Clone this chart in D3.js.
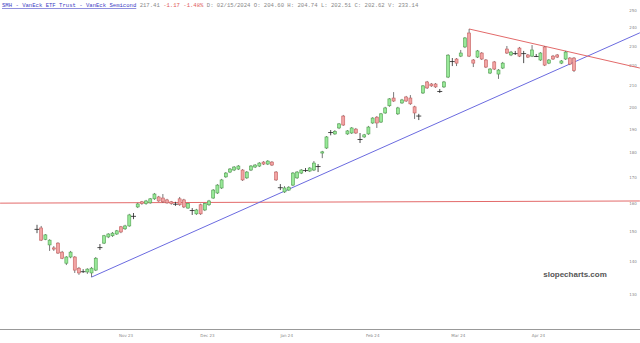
<!DOCTYPE html>
<html>
<head>
<meta charset="utf-8">
<style>
  body { margin: 0; background: #fff; }
  svg { display: block; }
  .hdr { font-family: "Liberation Mono", "DejaVu Sans Mono", monospace; font-size: 5.6px; }
  .yaxis text, .xaxis text { font-family: "DejaVu Sans", sans-serif; font-size: 4px; fill: #888; }
  .mark { font-family: "Liberation Sans", Arial, sans-serif; font-size: 8px; font-weight: bold; fill: #555; }
</style>
</head>
<body>
<svg width="640" height="343"></svg>
<script src="https://d3js.org/d3.v7.min.js"></script>
<script>

// SMH daily candles, Oct 2023 - Apr 2024
var opens = [
  151.0,151.3,147.4,145.5,144.5,146.1,143.1,139.5,141.5,141.5,
  137.9,137.0,136.7,136.4,137.3,144.8,146.1,148.2,148.6,149.2,
  151.7,151.0,152.0,155.5,158.8,160.7,160.0,160.3,161.8,162.5,
  162.1,161.4,160.7,160.0,161.8,161.4,158.4,157.7,156.3,159.6,
  157.7,159.6,162.1,164.0,165.9,170.2,172.1,172.9,173.3,172.9,
  169.8,172.9,174.1,174.5,176.1,175.3,176.1,172.1,166.2,164.4,
  165.1,167.0,169.8,171.7,172.9,172.5,172.9,174.5,179.8,181.9,
  188.3,187.9,190.5,195.8,187.9,188.3,190.0,185.7,186.6,187.9,
  192.7,195.3,193.1,197.2,200.5,204.1,196.8,201.8,204.6,204.1,
  200.0,196.3,206.5,211.8,210.8,210.8,207.4,209.4,214.2,222.3,
  223.3,224.8,229.6,237.1,222.8,224.3,226.4,222.8,216.2,221.8,
  215.7,218.7,228.5,225.4,226.4,229.0,226.4,225.4,224.8,224.8,
  222.8,229.6,221.2,224.8,225.4,221.2,223.3,223.8,223.8
];
var highs = [
  152.4,152.0,149.2,147.4,145.1,146.4,143.5,141.8,143.5,141.8,
  138.3,137.6,137.9,138.3,141.5,145.8,148.9,149.5,149.9,150.6,
  152.0,152.4,156.3,156.6,160.3,161.0,161.4,162.1,164.0,162.9,
  163.6,161.8,161.0,160.7,162.5,161.8,160.3,158.4,158.1,160.0,
  160.3,161.4,165.5,167.4,169.4,172.1,173.7,174.5,174.9,173.3,
  172.5,174.9,175.3,176.1,176.5,176.9,176.5,172.5,167.4,166.6,
  166.6,172.1,172.5,173.3,173.7,174.1,176.5,175.3,180.7,187.0,
  189.6,189.6,192.7,196.3,189.6,190.9,190.5,188.3,187.9,191.4,
  195.3,195.8,197.2,200.0,204.1,206.9,200.0,203.7,205.1,205.5,
  200.5,196.8,210.3,212.3,211.3,211.3,208.4,212.3,225.8,223.8,
  223.8,228.0,234.9,239.3,223.3,228.0,226.9,223.3,218.7,222.3,
  218.2,221.8,230.1,227.5,227.5,229.6,227.5,225.9,230.6,225.9,
  226.9,230.1,223.3,225.4,225.9,222.8,227.5,224.3,224.3
];
var lows = [
  149.5,146.8,147.1,143.5,143.5,142.5,140.8,138.9,141.1,136.4,
  135.8,136.4,136.1,135.1,137.0,143.8,145.8,147.8,148.2,148.9,
  149.5,150.6,151.7,154.4,158.4,159.6,159.6,160.0,161.4,160.7,
  160.3,160.0,159.6,159.2,159.2,158.4,158.1,155.9,155.9,155.9,
  157.3,159.2,161.8,163.6,165.5,169.8,171.7,172.5,172.9,168.6,
  169.4,172.5,173.7,174.1,174.9,174.9,174.5,168.6,165.1,164.0,
  164.8,166.6,169.4,171.3,172.1,172.1,172.5,172.1,177.7,181.5,
  187.3,187.5,190.0,191.4,187.5,187.9,187.9,184.0,186.2,187.5,
  192.3,190.5,192.7,196.8,200.0,202.3,196.3,201.4,202.3,200.9,
  194.5,194.0,206.0,208.4,209.4,208.9,206.5,208.9,213.7,219.7,
  219.7,224.3,229.0,224.3,219.2,223.8,222.8,218.7,215.7,217.7,
  213.3,218.2,225.9,224.8,225.4,224.3,221.2,223.8,224.3,224.3,
  222.3,219.7,220.7,222.8,223.8,220.7,222.8,220.2,216.7
];
var closes = [
  150.8,147.1,148.9,147.1,144.1,142.8,141.1,141.5,143.1,137.3,
  136.4,136.8,137.6,137.9,141.1,144.6,148.6,149.2,149.5,150.3,
  149.9,152.0,155.9,155.4,159.9,160.0,161.0,161.8,163.6,161.0,
  160.7,160.3,160.0,159.8,159.6,158.8,160.0,157.5,157.7,156.3,
  160.0,161.0,165.1,167.0,169.0,171.7,173.3,174.1,174.5,169.0,
  172.1,174.5,174.9,175.7,175.3,176.5,174.9,169.0,166.0,165.9,
  166.2,171.7,172.1,172.9,172.7,173.7,175.7,174.3,180.3,186.6,
  188.5,188.9,192.3,191.8,189.2,190.5,188.3,185.5,187.5,190.9,
  194.9,192.7,196.8,199.5,203.7,202.7,199.5,203.2,202.7,201.4,
  197.2,195.8,209.9,208.9,209.9,209.4,207.2,211.8,225.3,222.0,
  221.2,226.4,234.4,224.8,221.2,227.5,223.3,219.2,218.2,218.2,
  217.7,221.2,226.4,226.9,226.1,224.8,226.1,224.3,228.0,224.6,
  226.4,220.2,222.8,223.3,224.3,222.3,226.9,220.7,217.4
];

var priceTicks = [250, 240, 230, 220, 210, 200, 190, 180, 170, 160, 150, 140, 130];
var monthLabels = ["Nov 23", "Dec 23", "Jan 24", "Feb 24", "Mar 24", "Apr 24"];
var monthBar = [21.1, 40.5, 59.4, 79.9, 100.3, 119.4];

// drawn lines: [bar index, price] pairs
var supportLine = [[13, 135.1], [143.7, 237.2]];
var resistLine = [[103, 239.3], [143.7, 218.7]];
var flatLine = [[-8.8, 160.2], [143.7, 161.0]];

var svg = d3.select("svg"),
    width = +svg.attr("width"),
    height = +svg.attr("height");

var candles = opens.map(function(o, i) {
  return { i: i, o: o, h: highs[i], l: lows[i], c: closes[i] };
});

var x = d3.scaleLinear().domain([0, candles.length - 1]).range([37, 574]);
var y = d3.scaleLog().domain([130, 250]).range([293.8, 10]);

// header
var hdr = svg.append("text").attr("class", "hdr").attr("x", 2).attr("y", 7);
hdr.append("tspan").attr("fill", "#3b3bc4").attr("text-decoration", "underline")
   .text("SMH - VanEck ETF Trust - VanEck Semicond");
hdr.append("tspan").attr("fill", "#888").text(" 217.41 ");
hdr.append("tspan").attr("fill", "#e05a5a").text("-1.17 -1.48%");
hdr.append("tspan").attr("fill", "#888")
   .text(" D: 02/15/2024 O: 204.60 H: 204.74 L: 202.51 C: 202.62 V: 233.14");

// bottom rule
svg.append("line")
    .attr("x1", 0).attr("x2", width)
    .attr("y1", 329.5).attr("y2", 329.5)
    .attr("stroke", "#999").attr("stroke-width", 1);

// axes
var yAxis = svg.append("g").attr("class", "yaxis")
    .attr("transform", "translate(628,0)")
    .call(d3.axisRight(y).tickValues(priceTicks).tickSize(0).tickPadding(5)
          .tickFormat(d3.format("d")));
yAxis.select(".domain").remove();
yAxis.selectAll("text").attr("text-anchor", "middle");

var xAxis = svg.append("g").attr("class", "xaxis")
    .attr("transform", "translate(0,331)")
    .call(d3.axisBottom(x).tickValues(monthBar).tickSize(0).tickPadding(3)
          .tickFormat(function(d, i) { return monthLabels[i]; }));
xAxis.select(".domain").remove();

// trend lines
var lineGen = d3.line()
    .x(function(d) { return x(d[0]); })
    .y(function(d) { return y(d[1]); });

svg.append("path").datum(flatLine).attr("d", lineGen)
    .attr("fill", "none").attr("stroke", "#e36a6a").attr("stroke-width", 1);
svg.append("path").datum(supportLine).attr("d", lineGen)
    .attr("fill", "none").attr("stroke", "#6b6be0").attr("stroke-width", 1);
svg.append("path").datum(resistLine).attr("d", lineGen)
    .attr("fill", "none").attr("stroke", "#e36a6a").attr("stroke-width", 1);

// candles
var bw = 3;
var g = svg.append("g").attr("class", "candles")
  .selectAll("g")
  .data(candles)
  .enter().append("g");

function isDoji(d) { return Math.abs(y(d.o) - y(d.c)) < 1.2; }

g.append("line")
    .attr("x1", function(d) { return x(d.i); })
    .attr("x2", function(d) { return x(d.i); })
    .attr("y1", function(d) { return y(d.h); })
    .attr("y2", function(d) { return y(d.l); })
    .attr("stroke", function(d) { return isDoji(d) ? "#222" : "#555"; })
    .attr("stroke-width", 0.8);

g.filter(function(d) { return !isDoji(d); })
  .append("rect")
    .attr("x", function(d) { return x(d.i) - bw / 2; })
    .attr("y", function(d) { return y(Math.max(d.o, d.c)); })
    .attr("width", bw)
    .attr("height", function(d) { return Math.abs(y(d.o) - y(d.c)); })
    .attr("fill", function(d) { return d.c >= d.o ? "#98e898" : "#f2a4a4"; })
    .attr("stroke", function(d) { return d.c >= d.o ? "#4f9f4f" : "#c45e5e"; })
    .attr("stroke-width", 0.6);

g.filter(isDoji)
  .append("line")
    .attr("x1", function(d) { return x(d.i) - 2.5; })
    .attr("x2", function(d) { return x(d.i) + 2.5; })
    .attr("y1", function(d) { return y(d.c); })
    .attr("y2", function(d) { return y(d.c); })
    .attr("stroke", "#222")
    .attr("stroke-width", 0.8);

// watermark
svg.append("text").attr("class", "mark")
    .attr("x", 575).attr("y", 277)
    .attr("text-anchor", "middle")
    .text("slopecharts.com");

</script>
</body>
</html>
